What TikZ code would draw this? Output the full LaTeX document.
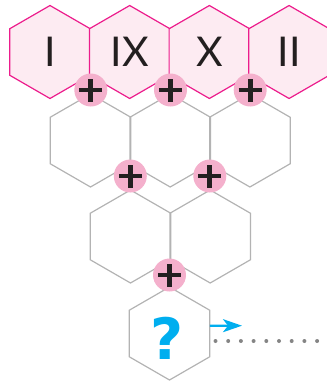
\documentclass[tikz,border=0pt]{standalone}
\usepackage{fontspec}
\setmainfont{Lato}
\newfontfamily\qmarkfont{DejaVu Sans}
\usetikzlibrary{shapes.geometric,arrows.meta}
\definecolor{hexpink}{HTML}{FDEBF2}
\definecolor{hexline}{HTML}{EC1C8C}
\definecolor{hexgrey}{HTML}{B3B3B3}
\definecolor{plusfill}{HTML}{F4B0CC}
\definecolor{inkdark}{HTML}{231F20}
\definecolor{qcyan}{HTML}{00AEEF}
\definecolor{dotgrey}{HTML}{858585}
\begin{document}
\begin{tikzpicture}[x=1pt,y=-1pt,
  hexcell/.style={regular polygon,regular polygon sides=6,shape border rotate=30,
    minimum size=93pt,inner sep=0pt,outer sep=0pt,line width=1.2pt},
  topcell/.style={hexcell,draw=hexline,fill=hexpink,text=inkdark,font=\fontsize{41}{41}\selectfont},
  sumcell/.style={hexcell,draw=hexgrey},
  qmark/.style={text=qcyan,inner sep=0pt,font=\qmarkfont\bfseries\fontsize{57}{57}\selectfont},
  plusdot/.style={circle,fill=plusfill,minimum size=33pt,inner sep=0pt,
    path picture={\draw[inkdark,line width=4.8pt]
      ([xshift=-11.5pt]path picture bounding box.center) -- ([xshift=11.5pt]path picture bounding box.center)
      ([yshift=-11.5pt]path picture bounding box.center) -- ([yshift=11.5pt]path picture bounding box.center);}}]
  \useasboundingbox (0,0) rectangle (327,384);
  \foreach \lab [count=\k from 0] in {I,IX,X,II}
    \node[topcell] (t\k) at (50+79.7*\k,52) {\lab};
  \foreach \k in {0,1,2}
    \node[sumcell] (s\k) at (90.5+79.7*\k,140.5) {};
  \foreach \k in {0,1}
    \node[sumcell] (r\k) at (130.5+79.7*\k,236.5) {};
  \node[sumcell] (q) at (169.5,333.5) {};
  \node[qmark] (qm) at (167.5,338) {?};
  \foreach \k in {0,1,2}
    \node[plusdot] (p\k) at (90.8+79.7*\k,90) {};
  \foreach \k in {0,1}
    \node[plusdot] (m\k) at (130.3+79.5*\k,176) {};
  \node[plusdot] (last) at (169.5,275) {};
  \coordinate (tip) at (242,325.7);
  \draw[qcyan,line width=2.2pt,-{Stealth[length=19pt,width=13pt,inset=5pt]}] (q.11) -- (tip);
  \coordinate (dotsa) at (215.5,341);
  \coordinate (dotsb) at (330,341);
  \draw[dotgrey,line width=4pt,line cap=round,dash pattern=on 0pt off 12.7pt] (dotsa) -- (dotsb);
\end{tikzpicture}
\end{document}
